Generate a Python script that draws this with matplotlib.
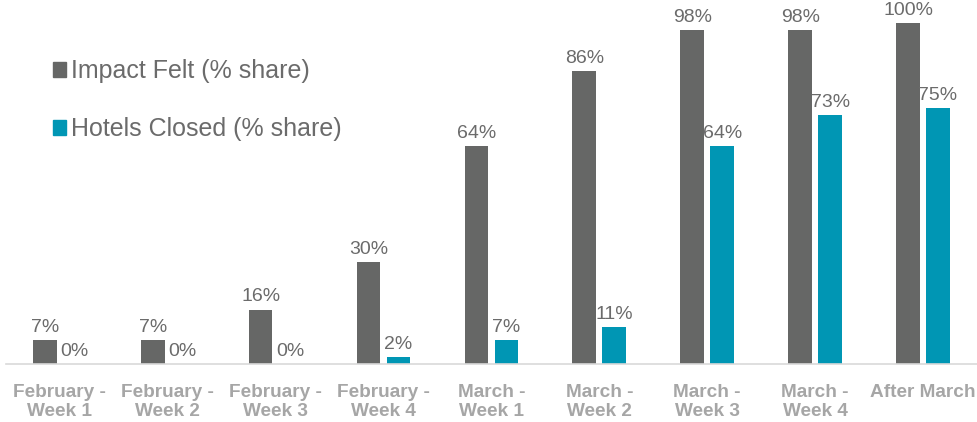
import matplotlib.pyplot as plt
import numpy as np
from matplotlib.patches import Patch

categories = ["February -\nWeek 1", "February -\nWeek 2", "February -\nWeek 3",
              "February -\nWeek 4", "March -\nWeek 1", "March -\nWeek 2",
              "March -\nWeek 3", "March -\nWeek 4", "After March"]
impact_felt = [7, 7, 16, 30, 64, 86, 98, 98, 100]
hotels_closed = [0, 0, 0, 2, 7, 11, 64, 73, 75]

GRAY = "#666766"
TEAL = "#0096b4"

plt.rcParams["font.family"] = ["Liberation Sans", "DejaVu Sans"]

def main():
    fig = plt.figure(figsize=(9.77, 4.22), dpi=100)
    ax = fig.add_axes([0.006, 0.137, 0.994, 0.808])

    x = np.arange(len(categories))
    w = 0.22
    off = 0.139
    b1 = ax.bar(x - off, impact_felt, w, color=GRAY)
    b2 = ax.bar(x + off, hotels_closed, w, color=TEAL)

    for bars, vals in ((b1, impact_felt), (b2, hotels_closed)):
        for rect, v in zip(bars, vals):
            ax.annotate(f"{v}%", (rect.get_x() + rect.get_width() / 2, v),
                        xytext=(0, 3), textcoords="offset points",
                        ha="center", va="bottom", fontsize=14,
                        color="#6b6b6b", annotation_clip=False)

    ax.set_xlim(-0.5, len(categories) - 0.5)
    ax.set_ylim(0, 100)
    ax.set_xticks(x)
    ax.set_xticklabels(categories, fontsize=13.7, fontweight="bold",
                       color="#a6a6a6", linespacing=1.1)
    ax.tick_params(axis="x", length=0, pad=14.5)
    ax.set_yticks([])
    for s in ("top", "right", "left"):
        ax.spines[s].set_visible(False)
    ax.spines["bottom"].set_color("#d9d9d9")
    ax.spines["bottom"].set_linewidth(1.2)

    handles = [Patch(color=GRAY, label="Impact Felt (% share)"),
               Patch(color=TEAL, label="Hotels Closed (% share)")]
    leg = ax.legend(handles=handles, loc="upper left",
                    bbox_to_anchor=(0.025, 0.96), frameon=False,
                    fontsize=18, handlelength=0.55, handleheight=0.55,
                    handletextpad=0.2, labelspacing=1.35)
    for t in leg.get_texts():
        t.set_color("#6b6b6b")

    fig.savefig("out.png", dpi=100)

if __name__ == "__main__":
    main()
